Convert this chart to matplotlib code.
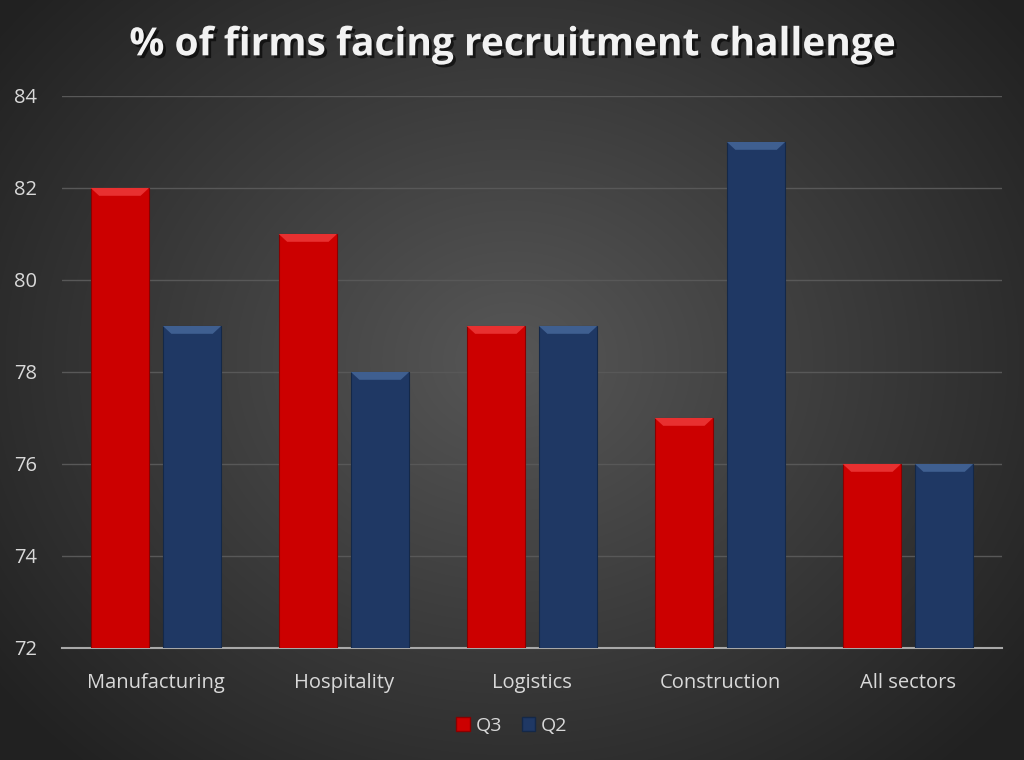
import numpy as np
import matplotlib.pyplot as plt
import matplotlib.patheffects as pe
from matplotlib.patches import Patch, Polygon

categories = ["Manufacturing", "Hospitality", "Logistics", "Construction", "All sectors"]
q3_values = [82, 81, 79, 77, 76]
q2_values = [79, 78, 79, 83, 76]
series_labels = ["Q3", "Q2"]
y_ticks = [72, 74, 76, 78, 80, 82, 84]

RED = "#cc0000"
RED_LIGHT = "#e83030"
BLUE = "#1f3864"
BLUE_LIGHT = "#3f5f90"

plt.rcParams["font.family"] = ["Open Sans", "DejaVu Sans"]

fig = plt.figure(figsize=(10.24, 7.6), dpi=100)

# radial gradient background
bg = fig.add_axes([0, 0, 1, 1], zorder=-10)
yy, xx = np.mgrid[0:760, 0:1024]
r = np.sqrt(((xx - 512) / 620.0) ** 2 + ((yy - 360) / 520.0) ** 2)
shade = np.clip(0.34 - 0.20 * r, 0.13, 0.35)
bg.imshow(np.dstack([shade, shade, shade]), aspect="auto", extent=[0, 1, 0, 1])
bg.set_axis_off()

ax = fig.add_axes([0.0605, 0.1474, 0.918, 0.7263])
ax.set_facecolor("none")

x = np.arange(len(categories))
width = 0.31
offset = 0.192


def bevel_bars(bars, light):
    # lighter trapezoid on top of each bar for the bevel look
    for b in bars:
        x0, w, top = b.get_x(), b.get_width(), b.get_height() + b.get_y()
        h = 0.17
        d = 0.045
        poly = Polygon([(x0, top), (x0 + w, top), (x0 + w - d, top - h), (x0 + d, top - h)],
                       closed=True, facecolor=light, edgecolor="none", zorder=4)
        ax.add_patch(poly)


bars_q3 = ax.bar(x - offset, q3_values, width, bottom=0, color=RED,
                 edgecolor="#8a0000", linewidth=0.8, zorder=3)
bars_q2 = ax.bar(x + offset, q2_values, width, bottom=0, color=BLUE,
                 edgecolor="#142848", linewidth=0.8, zorder=3)
bevel_bars(bars_q3, RED_LIGHT)
bevel_bars(bars_q2, BLUE_LIGHT)

ax.set_xlim(-0.5, len(categories) - 0.5)
ax.set_ylim(72, 84)
ax.set_yticks(y_ticks)
ax.set_xticks(x)
ax.set_xticklabels(categories)
ax.tick_params(axis="both", length=0, labelsize=14.5, colors="#d9d9d9")
ax.tick_params(axis="x", pad=18)
ax.tick_params(axis="y", pad=18)
ax.grid(True, axis="y", color="#585858", linewidth=1)
ax.set_axisbelow(True)
for s in ["top", "right", "left"]:
    ax.spines[s].set_visible(False)
ax.spines["bottom"].set_color("#a8a8a8")
ax.spines["bottom"].set_linewidth(1.5)

fig.text(0.5, 0.941, "% of firms facing recruitment challenge", ha="center", va="center",
         fontsize=28, fontweight="bold", color="#f2f2f2",
         path_effects=[pe.withSimplePatchShadow(offset=(2, -2), shadow_rgbFace="black", alpha=0.6)])

handles = [Patch(facecolor=RED, edgecolor="#8a0000", label=series_labels[0]),
           Patch(facecolor=BLUE, edgecolor="#142848", label=series_labels[1])]
leg = fig.legend(handles=handles, loc="center", bbox_to_anchor=(0.5, 0.045), ncol=2,
                 frameon=False, fontsize=14, handlelength=0.7, handleheight=0.7,
                 handletextpad=0.3, columnspacing=1.0)
for t in leg.get_texts():
    t.set_color("#d9d9d9")

fig.savefig("out.png", dpi=100)
